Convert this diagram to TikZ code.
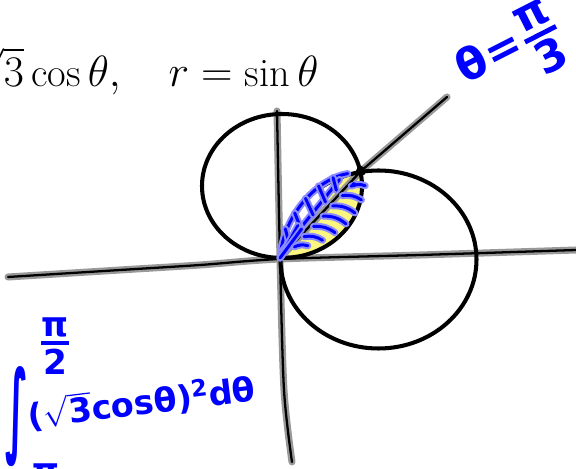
\documentclass[tikz,border=0pt]{standalone}
\usepackage{amsmath}
\usepackage{graphicx}
\usepackage{fontspec}
\newfontfamily\handfont{DejaVu Sans}
\usetikzlibrary{calc}

\definecolor{lensyellow}{RGB}{250,246,128}

\newcommand{\handfrac}[2]{$\genfrac{}{}{0.11em}{1}{\hbox{#1}}{\hbox{#2}}$}

\tikzset{
  axisline/.style={line width=1.3pt, line cap=round, line join=round,
    preaction={draw=black!40, line width=4pt, line cap=round, line join=round}},
  circleline/.style={line width=2.3pt},
  bluepen/.style={blue, line width=1.7pt, line cap=round, line join=round,
    preaction={draw=blue!45, line width=4pt, line cap=round, line join=round}},
  handtext/.style={blue, inner sep=0pt, font=\handfont\bfseries\fontsize{19.5}{22}\selectfont}
}

\begin{document}
\begin{tikzpicture}[x=0.02cm, y=-0.02cm]
\useasboundingbox (0,0) rectangle (576,469);
\clip (0,0) rectangle (576,469);

  % Define the positions of the points
  \coordinate (O) at (280,258);
  \coordinate (P) at (361,171);
  \coordinate (E) at (447,97);
  \coordinate (C1) at (282,186);
  \coordinate (C2) at (378.5,259.5);

  % Shade the region inside both circles
  \begin{scope}
    \clip (C1) ellipse [x radius=80, y radius=72];
    \clip (C2) ellipse [x radius=98, y radius=89];
    \begin{scope}[shift={(O)}, rotate=47]
      \fill[lensyellow] (-10,-8) rectangle (130,40);
    \end{scope}
  \end{scope}

  % Draw the axes and the ray
  \draw[axisline] plot[smooth] coordinates {(8,277) (120,270) (200,265) (280,259) (420,255) (576,250)};
  \draw[axisline] plot[smooth] coordinates {(277,111) (280,258) (284,390) (292,462)};
  \draw[axisline] (O) -- (P) -- (E);

  % Draw the circles
  \draw[circleline] (C1) ellipse [x radius=80, y radius=72];
  \draw[circleline] (C2) ellipse [x radius=98, y radius=89];

  % Hatch the region
  \begin{scope}[shift={(O)}, rotate=47]
    \draw[bluepen] (0,0) .. controls (35,-28) and (85,-26) .. (108,-8);
    \draw[bluepen] (4,-3) -- (98,-10);
    \foreach \t/\s in {22/-16, 40/-20, 58/-22, 76/-21, 92/-16}
      \draw[bluepen] (\t-4,-5) -- (\t+3,\s);
    \foreach \a in {-9,-4}
      \draw[bluepen] (0,0) -- (36,\a);
    \foreach \t/\s in {18/12, 32/19, 46/23, 60/25, 74/24, 88/20, 101/13}
      \draw[bluepen] (\t,3) to[bend left=20] (\t+10,\s);
    \fill[blue] (104,4) circle (2.5);
  \end{scope}

  % Draw the point of intersection
  \fill (P) circle (5);

  % Draw the labels
  \node[anchor=base west, inner sep=0pt, font=\fontsize{23}{28}\selectfont] (eqn) at (-33,87)
    {$\sqrt{3}\cos\theta,\quad r=\sin\theta$};
  \node[handtext, rotate=27, font=\handfont\bfseries\fontsize{25}{29}\selectfont] (lbl) at (511,54)
    {θ\kern1pt=\kern1pt\handfrac{π}{3}};
  \node[handtext] (intsign) at (17,417) {\resizebox*{13pt}{57pt}{∫}};
  \node[handtext] (uplim) at (55,346) {\handfrac{π}{2}};
  \node[handtext, anchor=north] (lowlim) at (46,463) {\handfrac{π}{3}};
  \node[handtext, anchor=west, rotate=7, font=\handfont\bfseries\fontsize{19}{22}\selectfont] (integrand) at (28,416)
    {($\sqrt{\hbox{3}}$cosθ)\textsuperscript{2}dθ};

\end{tikzpicture}
\end{document}
